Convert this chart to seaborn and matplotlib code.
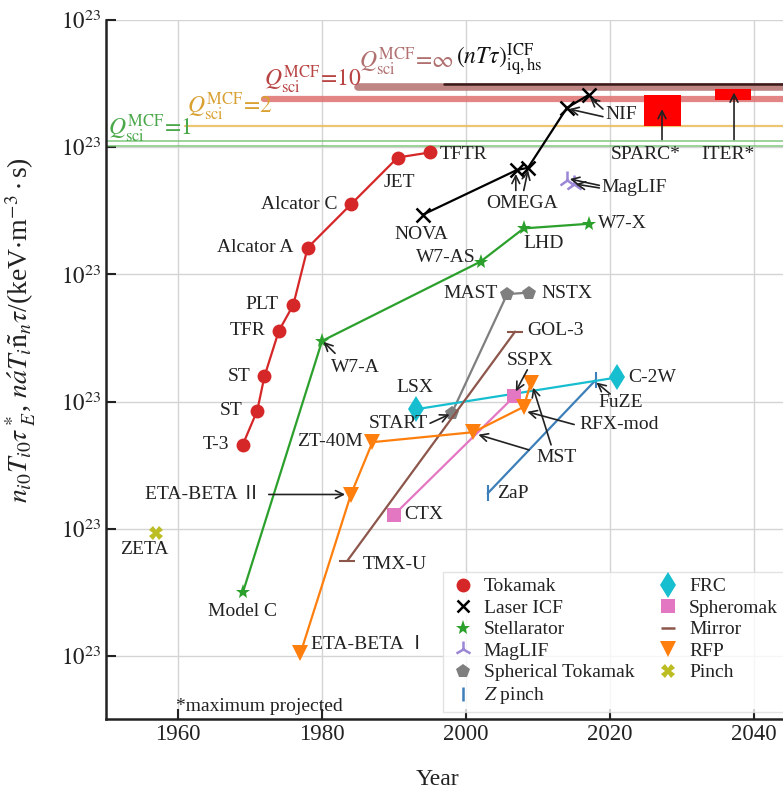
import numpy as np
import pandas as pd
import matplotlib
matplotlib.use("Agg")
import matplotlib.pyplot as plt
import seaborn as sns
from matplotlib.lines import Line2D
from matplotlib.ticker import FixedLocator, FixedFormatter, NullLocator

# ---------------- data ----------------
tokamak_names = ["T-3", "ST", "ST", "TFR", "PLT", "Alcator A", "Alcator C", "JET", "TFTR"]
tokamak_year = [1969, 1971, 1972, 1974, 1976, 1978, 1984, 1990.5, 1995]
tokamak_val = [4.6e19, 8.5e19, 1.58e20, 3.6e20, 5.75e20, 1.62e21, 3.55e21, 8.3e21, 9.1e21]

icf_names = ["NOVA", "OMEGA", "OMEGA", "NIF", "NIF"]
icf_year = [1994, 2007, 2008.6, 2014, 2017]
icf_val = [2.95e21, 6.6e21, 6.9e21, 2.04e22, 2.57e22]

stell_names = ["Model C", "W7-A", "W7-AS", "LHD", "W7-X"]
stell_year = [1969, 1980, 2002, 2008, 2017]
stell_val = [3.16e18, 3.0e20, 1.26e21, 2.3e21, 2.5e21]

maglif_year = [2014, 2015]
maglif_val = [5.5e21, 5.1e21]

st_names = ["START", "MAST", "NSTX"]
st_year = [1998, 2005.7, 2008.8]
st_val = [8.1e19, 7.0e20, 7.2e20]

zpinch_names = ["ZaP", "FuZE"]
zpinch_year = [2003, 2018]
zpinch_val = [1.9e19, 1.48e20]

frc_names = ["LSX", "C-2W"]
frc_year = [1993, 2021]
frc_val = [8.7e19, 1.55e20]

spheromak_names = ["CTX", "SSPX"]
spheromak_year = [1990, 2006.7]
spheromak_val = [1.29e19, 1.1e20]

mirror_names = ["TMX-U", "GOL-3"]
mirror_year = [1983.5, 2006.8]
mirror_val = [5.6e18, 3.55e20]

rfp_names = ["ETA-BETA Ⅰ", "ETA-BETA Ⅱ", "ZT-40M", "MST", "RFX-mod", "MST"]
rfp_year = [1977, 1984, 1987, 2001, 2008, 2009]
rfp_val = [1.05e18, 1.86e19, 4.8e19, 5.75e19, 9.1e19, 1.41e20]

pinch_names = ["ZETA"]
pinch_year = [1957]
pinch_val = [9.3e18]

# Q_sci thresholds (value, start year)
q1_val = [1.12e22, 1.03e22]
q1_start = 1950
q2_val = 1.48e22
q2_start = 1961
q10_val = 2.4e22
q10_start = 1972
qinf_val = 3.0e22
qinf_start = 1985
icf_hs_val = 3.16e22
icf_hs_start = 1997
x_end = 2044

sparc_year = [2024.7, 2029.9]
sparc_lo, sparc_hi = 1.48e22, 2.57e22
iter_year = [2034.6, 2039.6]
iter_lo, iter_hi = 2.35e22, 2.88e22

ytick_vals = [1e18, 1e19, 1e20, 1e21, 1e22, 1e23]
ytick_labels = [r"$10^{23}$"] * 6
xtick_vals = [1960, 1980, 2000, 2020, 2040]

# ---------------- style ----------------
sns.set_theme(style="whitegrid")
plt.rcParams["font.family"] = ["Liberation Serif", "Noto Sans CJK SC", "DejaVu Serif"]
plt.rcParams["mathtext.fontset"] = "stix"

fig = plt.figure(figsize=(7.83, 7.89), dpi=100)
ax = fig.add_axes([106 / 783, 1 - 719 / 789, 1 - 106 / 783, (719 - 20) / 789])
ax.set_yscale("log")

C = {
    "tok": "#d62728", "icf": "black", "stell": "#2ca02c", "mag": "#9b87d6",
    "st": "#7f7f7f", "zp": "#3d7fb8", "frc": "#17becf", "sph": "#e377c2",
    "mir": "#8c564b", "rfp": "#ff7f0e", "pinch": "#bcbd22",
}

def series(x, y, color, marker, ms, mew=0, lw=1.6, alpha=1.0):
    df = pd.DataFrame({"year": x, "val": y})
    sns.lineplot(data=df, x="year", y="val", ax=ax, color=color, marker=marker,
                 markersize=ms, markeredgewidth=mew, markeredgecolor=color,
                 lw=lw, sort=False, estimator=None, alpha=alpha, zorder=3)

def hline(v, x0, color, lw, alpha=1.0, z=2):
    df = pd.DataFrame({"year": [x0, x_end], "val": [v, v]})
    sns.lineplot(data=df, x="year", y="val", ax=ax, color=color, lw=lw,
                 alpha=alpha, sort=False, estimator=None, zorder=z)

# threshold lines
for v in q1_val:
    hline(v, q1_start, "#6cc06c", 1.2, 0.8)
hline(q2_val, q2_start, "#e8b850", 1.6, 0.8)
hline(q10_val, q10_start, "#e07070", 4.5, 0.85)
hline(qinf_val, qinf_start, "#b87878", 5.5, 0.9)
hline(icf_hs_val, icf_hs_start, "#3a1a1a", 1.8, 1.0, z=2.5)

# SPARC / ITER boxes
ax.fill_between(sparc_year, [sparc_lo] * 2, [sparc_hi] * 2, color="#ff0000", lw=0, zorder=4)
ax.fill_between(iter_year, [iter_lo] * 2, [iter_hi] * 2, color="#ff0000", lw=0, zorder=4)

# data series
series(tokamak_year, tokamak_val, C["tok"], "o", 10)
series(icf_year, icf_val, C["icf"], "x", 10, mew=1.8)
series(stell_year, stell_val, C["stell"], "*", 11)
series(maglif_year, maglif_val, C["mag"], "2", 13, mew=1.8, lw=0)
series(st_year, st_val, C["st"], "p", 10)
series(zpinch_year, zpinch_val, C["zp"], "|", 11, mew=1.5)
series(frc_year, frc_val, C["frc"], "d", 13)
series(spheromak_year, spheromak_val, C["sph"], "s", 10)
series(mirror_year, mirror_val, C["mir"], "_", 11, mew=1.5)
series(rfp_year, rfp_val, C["rfp"], "v", 11)
series(pinch_year, pinch_val, C["pinch"], "X", 10, lw=0)

# ---------------- text ----------------
L = lambda e: 10 ** e
FS = 14

def label(t, x, ly, ha="left", va="center", fs=FS, color="#222222"):
    ax.text(x, L(ly), t, ha=ha, va=va, fontsize=fs, color=color, zorder=6)

def arrow(x0, y0, x1, y1):
    ax.annotate("", xy=(x1, L(y1)), xytext=(x0, L(y0)),
                arrowprops=dict(arrowstyle="->", color="#222222", lw=1.2,
                                shrinkA=0, shrinkB=0, mutation_scale=14), zorder=6)

label("TFTR", 1996.3, 21.94)
label("JET", 1990.7, 21.72, ha="center")
label("Alcator C", 1982.2, 21.55, ha="right")
label("Alcator A", 1976.0, 21.21, ha="right")
label("PLT", 1973.9, 20.76, ha="right")
label("TFR", 1972.2, 20.56, ha="right")
label("ST", 1970.0, 20.20, ha="right")
label("ST", 1968.9, 19.93, ha="right")
label("T-3", 1967.1, 19.66, ha="right")
label("NOVA", 1993.75, 21.31, ha="center")
label("W7-AS", 1997.2, 21.13, ha="center")
label("LHD", 2010.7, 21.24, ha="center")
label("W7-X", 2018.3, 21.40)
label("MAST", 2004.4, 20.85, ha="right")
label("NSTX", 2010.4, 20.85)
label("GOL-3", 2008.5, 20.56)
label("SSPX", 2008.9, 20.32, ha="center")
label("LSX", 1992.9, 20.11, ha="center")
label("C-2W", 2022.5, 20.19)
label("FuZE", 2021.5, 19.99, ha="center")
label("RFX-mod", 2015.7, 19.82)
label("MST", 2012.5, 19.56, ha="center")
label("START", 1994.7, 19.83, ha="right")
label("ZT-40M", 1985.7, 19.69, ha="right")
label("ZaP", 2004.3, 19.28)
label("CTX", 1991.4, 19.11)
label("ETA-BETA Ⅱ", 1971.5, 19.27, ha="right")
label("ZETA", 1955.3, 18.84, ha="center")
label("TMX-U", 1985.6, 18.72)
label("Model C", 1968.9, 18.35, ha="center")
label("ETA-BETA Ⅰ", 1978.5, 18.09)
label("*maximum projected", 1959.7, 17.60)
label("NIF", 2019.4, 22.26)
label("OMEGA", 2007.8, 21.56, ha="center")
label("MagLIF", 2018.75, 21.68)
label("SPARC*", 2025.0, 21.94, ha="center")
label("ITER*", 2036.4, 21.94, ha="center")
label("W7-A", 1981.25, 20.27)

arrow(1981.8, 20.38, 1980.2, 20.47)
arrow(1995.0, 19.83, 1997.7, 19.90)
arrow(2008.5, 20.25, 2006.9, 20.08)
arrow(2020.0, 20.06, 2018.1, 20.15)
arrow(2015.0, 19.82, 2008.5, 19.92)
arrow(2008.75, 19.62, 2001.7, 19.74)
arrow(2011.8, 19.66, 2009.3, 20.11)
arrow(1972.6, 19.27, 1983.2, 19.27)
arrow(2019.0, 22.24, 2014.3, 22.30)
arrow(2019.0, 22.30, 2017.2, 22.39)
arrow(2006.9, 21.66, 2006.9, 21.79)
arrow(2008.0, 21.66, 2008.6, 21.82)
arrow(2018.5, 21.68, 2015.2, 21.71)
arrow(2018.5, 21.70, 2014.4, 21.75)
arrow(2027.2, 22.06, 2027.2, 22.30)
arrow(2037.2, 22.06, 2037.2, 22.43)

QFS = 17
label(r"$Q_{\mathrm{sci}}^{\mathrm{MCF}}\!=\!1$", 1950.3, 22.14, fs=QFS, color="#4aa84a")
label(r"$Q_{\mathrm{sci}}^{\mathrm{MCF}}\!=\!2$", 1961.2, 22.32, fs=QFS, color="#d9a032")
label(r"$Q_{\mathrm{sci}}^{\mathrm{MCF}}\!=\!10$", 1971.9, 22.53, fs=QFS, color="#b84444")
label(r"$Q_{\mathrm{sci}}^{\mathrm{MCF}}\!=\!\infty$", 1985.1, 22.67, fs=QFS, color="#b07070")
label(r"$(nT\tau)_{\mathrm{iq,hs}}^{\mathrm{ICF}}$", 1998.6, 22.69, fs=QFS, color="#111111")

# ---------------- axes ----------------
ax.set_xlim(1950, x_end)
ax.set_ylim(L(17.505), 1e23)
ax.xaxis.set_major_locator(FixedLocator(xtick_vals))
ax.yaxis.set_major_locator(FixedLocator(ytick_vals))
ax.yaxis.set_major_formatter(FixedFormatter(ytick_labels))
ax.yaxis.set_minor_locator(NullLocator())
ax.grid(True, color="#d4d4d4", lw=1.0)
ax.tick_params(axis="both", which="major", direction="in", length=7, width=1.5,
               labelsize=16.5, colors="#222222", bottom=True, left=True)
for s in ["top", "right"]:
    ax.spines[s].set_visible(False)
for s in ["left", "bottom"]:
    ax.spines[s].set_color("#222222")
    ax.spines[s].set_linewidth(1.8)

ax.set_xlabel("Year", fontsize=17, color="#222222")
ax.xaxis.set_label_coords(0.489, -0.071)
ax.set_ylabel(r"$n_{i0}T_{i0}\tau^*_{\ E}$, $n\acute{a}T_i\tilde{\mathrm{n}}_n\tau$/(keV$\cdot$m$^{-3}\cdot$s)",
              fontsize=20, color="#222222")
ax.yaxis.set_label_coords(-0.100, 0.556)

handles = [
    Line2D([], [], ls="none", marker="o", color=C["tok"], ms=10, mew=0),
    Line2D([], [], ls="none", marker="x", color=C["icf"], ms=9, mew=1.8),
    Line2D([], [], ls="none", marker="*", color=C["stell"], ms=11, mew=0),
    Line2D([], [], ls="none", marker="2", color=C["mag"], ms=12, mew=1.8),
    Line2D([], [], ls="none", marker="p", color=C["st"], ms=10, mew=0),
    Line2D([], [], ls="none", marker="|", color=C["zp"], ms=10, mew=1.8),
    Line2D([], [], ls="none", marker="d", color=C["frc"], ms=13, mew=0),
    Line2D([], [], ls="none", marker="s", color=C["sph"], ms=10, mew=0),
    Line2D([], [], ls="none", marker="_", color=C["mir"], ms=10, mew=1.8),
    Line2D([], [], ls="none", marker="v", color=C["rfp"], ms=11, mew=0),
    Line2D([], [], ls="none", marker="X", color=C["pinch"], ms=10, mew=0),
]
labels = ["Tokamak", "Laser ICF", "Stellarator", "MagLIF", "Spherical Tokamak",
          r"$Z$ pinch", "FRC", "Spheromak", "Mirror", "RFP", "Pinch"]
leg = ax.legend(handles, labels, ncol=2, loc="upper left",
                bbox_to_anchor=((443 - 106) / 677, (719 - 572) / 699),
                fontsize=14, labelspacing=0.2, handletextpad=0.3,
                columnspacing=1.0, borderpad=0.3, handlelength=1.5,
                frameon=True, fancybox=False, borderaxespad=0)
leg.get_frame().set_edgecolor("#dddddd")
leg.get_frame().set_linewidth(1.0)
for t in leg.get_texts():
    t.set_color("#222222")

fig.savefig("out.png", dpi=100)
